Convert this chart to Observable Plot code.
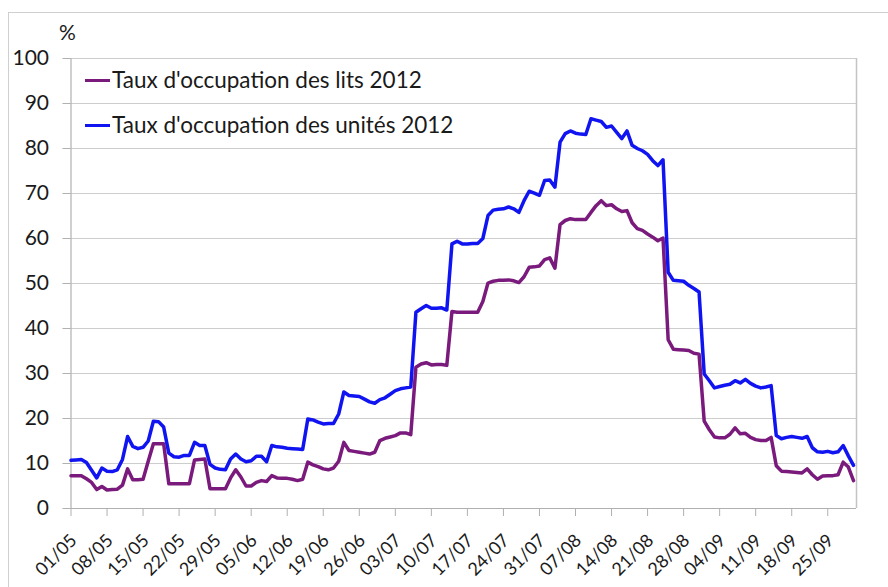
<!DOCTYPE html>
<html><head><meta charset="utf-8">
<script src="https://cdn.jsdelivr.net/npm/d3@7"></script>
<script src="https://cdn.jsdelivr.net/npm/@observablehq/plot@0.6"></script>
<style>
body{margin:0;background:#fff;}
#wrap{position:relative;width:888px;height:587px;overflow:hidden;font-family:Lato,"Open Sans",sans-serif;color:#1a1a1a;}
#frame{position:absolute;left:8px;top:12px;width:900px;height:600px;border-left:1.5px solid #cfcfcf;border-top:1.5px solid #cfcfcf;}
#pct{position:absolute;left:59px;top:19px;font-size:21px;}
.leg{position:absolute;left:85px;font-size:22.5px;white-space:nowrap;}
.sw{display:inline-block;width:25px;height:0;border-top:3px solid;vertical-align:middle;margin-right:2px;position:relative;top:-2px;}
</style></head>
<body><div id="wrap"><div id="frame"></div><div id="chart"></div>
<div id="pct">%</div>
<div class="leg" style="top:66px"><span class="sw" style="border-color:#7a1a7c"></span>Taux d'occupation des lits 2012</div>
<div class="leg" style="top:111px"><span class="sw" style="border-color:#1014f0"></span>Taux d'occupation des unités 2012</div>
</div>
<script>
const seriesNames = ["Taux d'occupation des lits 2012", "Taux d'occupation des unités 2012"];
const startDay = [2012, 4, 1];
const tickLabels = ["01/05","08/05","15/05","22/05","29/05","05/06","12/06","19/06","26/06","03/07","10/07","17/07","24/07","31/07","07/08","14/08","21/08","28/08","04/09","11/09","18/09","25/09"];
const yTicks = [0,10,20,30,40,50,60,70,80,90,100];
const unites = [
10.7,10.8,10.9,10.2,8.5,6.8,9.0,8.3,8.2,8.6,
10.9,16.0,13.8,13.3,13.6,15.0,19.4,19.3,18.1,12.3,
11.5,11.4,11.8,11.8,14.7,14.0,14.0,9.8,9.0,8.7,
8.6,11.0,12.1,11.0,10.4,10.6,11.6,11.6,10.4,14.0,
13.7,13.6,13.4,13.3,13.2,13.1,19.9,19.7,19.2,18.8,
18.9,18.9,21.0,25.9,25.1,25.0,24.9,24.3,23.7,23.4,
24.2,24.6,25.4,26.2,26.6,26.8,27.0,43.6,44.4,45.1,
44.5,44.5,44.6,44.1,58.8,59.4,58.8,58.8,58.9,58.9,
60.0,65.1,66.3,66.5,66.6,67.0,66.6,65.8,68.4,70.5,
70.1,69.6,72.9,73.0,71.4,81.4,83.3,83.9,83.4,83.2,
83.1,86.6,86.3,86.0,84.7,85.0,83.6,82.2,83.9,80.7,
80.0,79.5,78.7,77.3,76.2,77.5,52.5,50.7,50.6,50.5,
49.6,48.9,48.1,29.9,28.4,26.8,27.1,27.4,27.6,28.4,
27.9,28.7,27.8,27.2,26.8,27.0,27.3,16.2,15.5,15.8,
16.0,15.8,15.6,16.0,13.5,12.6,12.5,12.7,12.4,12.6,
14.0,11.7,9.6];
const lits = [
7.3,7.3,7.3,6.6,5.8,4.2,4.9,4.1,4.2,4.3,
5.2,8.8,6.4,6.4,6.5,10.5,14.4,14.4,14.4,5.5,
5.5,5.5,5.5,5.5,10.8,10.9,11.0,4.4,4.4,4.4,
4.4,6.8,8.6,7.0,5.0,5.0,5.8,6.2,6.0,7.3,
6.8,6.7,6.7,6.5,6.2,6.5,10.3,9.7,9.3,8.8,
8.6,9.0,10.5,14.7,12.9,12.7,12.5,12.3,12.1,12.5,
15.1,15.6,15.9,16.2,16.8,16.8,16.4,31.4,32.1,32.4,
31.9,32.0,32.0,31.8,43.8,43.6,43.6,43.6,43.6,43.6,
46.0,50.1,50.5,50.7,50.7,50.8,50.6,50.2,51.5,53.6,
53.7,53.9,55.3,55.7,53.4,63.1,64.0,64.4,64.2,64.2,
64.2,65.8,67.3,68.4,67.3,67.5,66.6,66.0,66.2,63.5,
62.2,61.8,61.0,60.3,59.5,60.1,37.5,35.4,35.3,35.2,
35.1,34.5,34.3,19.4,17.5,15.9,15.7,15.7,16.5,17.9,
16.6,16.7,15.8,15.3,15.1,15.1,15.8,9.5,8.3,8.2,
8.1,8.0,7.9,8.8,7.5,6.5,7.2,7.3,7.3,7.5,
10.3,9.2,6.2];

const dayDate = i => new Date(startDay[0], startDay[1], startDay[2] + i);
const rows = [];
lits.forEach((v, i) => rows.push({date: dayDate(i), value: v, serie: seriesNames[0]}));
unites.forEach((v, i) => rows.push({date: dayDate(i), value: v, serie: seriesNames[1]}));
const tickDates = tickLabels.map(s => { const [d, m] = s.split("/").map(Number); return new Date(2012, m - 1, d); });
const tickRows = tickDates.map((d, i) => ({date: d, label: tickLabels[i]}));
const xMin = dayDate(0), xMax = new Date(2012, 8, 30, 14);

const chart = Plot.plot({
  width: 888, height: 587,
  marginLeft: 70.5, marginRight: 32, marginTop: 58, marginBottom: 79,
  style: {fontFamily: "Lato, 'Open Sans', sans-serif", fontSize: "21px", color: "#1a1a1a", background: "transparent"},
  x: {type: "time", domain: [xMin, xMax]},
  y: {domain: [0, 100]},
  color: {domain: seriesNames, range: ["#7a1a7c", "#1014f0"]},
  marks: [
    Plot.gridY(yTicks, {stroke: "#cdcdcd", strokeOpacity: 1, strokeWidth: 1.2}),
    Plot.ruleX([xMax], {stroke: "#c4c4c4", strokeWidth: 1.5}),
    Plot.axisY(yTicks, {tickSize: 8, tickPadding: 14, label: null, stroke: "#b0b0b0", fontSize: 21}),
    Plot.ruleX([xMin], {stroke: "#b0b0b0", strokeWidth: 1.2}),
    Plot.ruleY([0], {stroke: "#b0b0b0", strokeWidth: 1.2}),
    Plot.axisX(tickDates, {tickSize: 8, label: null, stroke: "#b0b0b0", text: null}),
    Plot.text(tickRows, {x: "date", text: "label", frameAnchor: "bottom", rotate: -45, textAnchor: "end",
      lineAnchor: "bottom", dx: 7, dy: 33, fontSize: 18, fill: "#1a1a1a"}),
    Plot.line(rows, {x: "date", y: "value", z: "serie", stroke: "serie", strokeWidth: 3.5, strokeLinejoin: "round", curve: "linear"})
  ]
});
chart.style.position = "absolute"; chart.style.left = "0"; chart.style.top = "0";
document.getElementById("chart").appendChild(chart);
</script></body></html>
